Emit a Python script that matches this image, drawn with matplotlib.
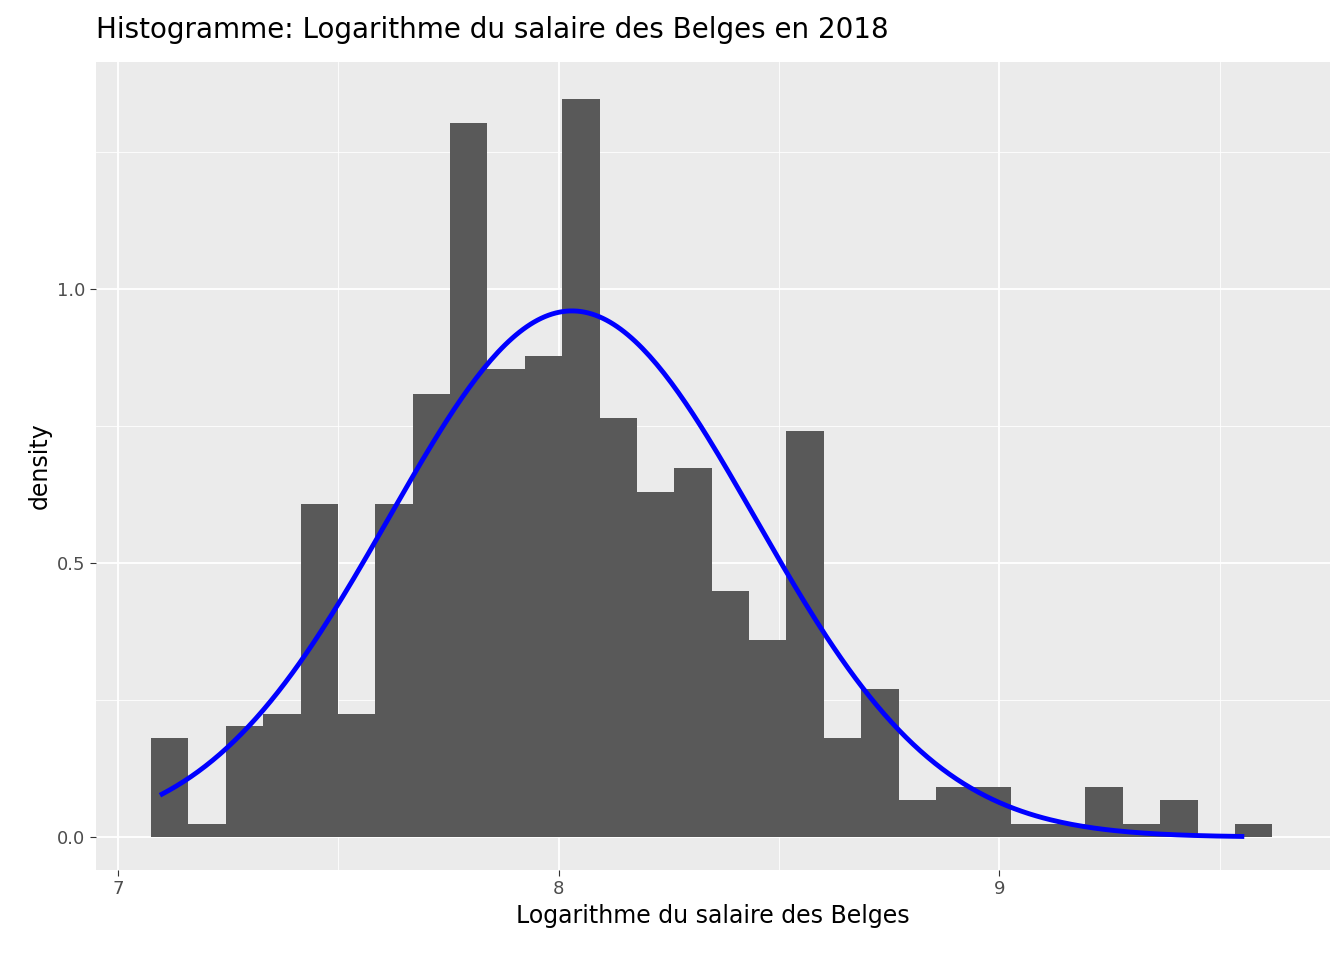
import numpy as np
import matplotlib
matplotlib.use("Agg")
import matplotlib.pyplot as plt

bin_start = 7.075
bin_width = 0.0848
densities = [0.181, 0.024, 0.203, 0.224, 0.608, 0.224, 0.608, 0.808, 1.303, 0.854,
             0.878, 1.347, 0.765, 0.630, 0.673, 0.449, 0.359, 0.741, 0.181, 0.270,
             0.068, 0.091, 0.091, 0.024, 0.024, 0.091, 0.024, 0.068, 0.0, 0.024]
mu, sigma = 8.03, 0.4156
curve_range = (7.1, 9.55)

fig = plt.figure(figsize=(13.44, 9.6), dpi=100)
ax = fig.add_axes([96/1344, 90/960, 1234/1344, 808/960])
ax.set_facecolor("#EBEBEB")
for s in ax.spines.values():
    s.set_visible(False)

ax.set_xlim(6.95, 9.75)
ax.set_ylim(-0.06, 1.414)
ax.set_xticks([7, 8, 9])
ax.set_xticks([7.5, 8.5, 9.5], minor=True)
ax.set_yticks([0.0, 0.5, 1.0])
ax.set_yticks([0.25, 0.75, 1.25], minor=True)
ax.set_yticklabels(["0.0", "0.5", "1.0"])
ax.grid(True, which="major", color="white", lw=1.3)
ax.grid(True, which="minor", color="white", lw=0.6)
ax.set_axisbelow(True)
ax.tick_params(which="major", length=4, color="#333333", labelsize=13, labelcolor="#4D4D4D")
ax.tick_params(which="minor", length=0)

lefts = bin_start + bin_width * np.arange(len(densities))
ax.bar(lefts, densities, width=bin_width, align="edge", color="#595959", lw=0)

x = np.linspace(*curve_range, 300)
ax.plot(x, np.exp(-0.5 * ((x - mu) / sigma) ** 2) / (sigma * np.sqrt(2 * np.pi)), color="blue", lw=3.5)

ax.set_xlabel("Logarithme du salaire des Belges", fontsize=17)
ax.set_ylabel("density", fontsize=17)
fig.text(96/1344, 1 - 30/960, "Histogramme: Logarithme du salaire des Belges en 2018", fontsize=20, va="center")
fig.savefig("out.png")
